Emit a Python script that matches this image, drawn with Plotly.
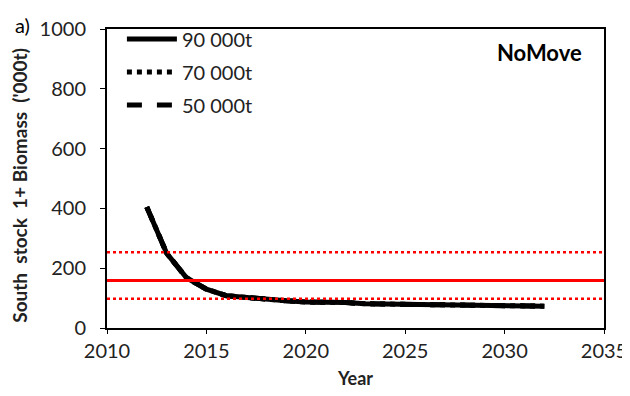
import plotly.graph_objects as go

years = list(range(2012, 2033))
biomass_90k = [405, 250, 168, 130, 108, 101, 96, 91, 87, 87, 85, 81, 80, 80, 79, 75, 78, 74, 73, 73, 73]
biomass_70k = [405, 250, 168, 130, 108, 101, 96, 91, 87, 87, 85, 81, 80, 80, 79, 75, 78, 74, 73, 73, 73]
biomass_50k = [405, 250, 168, 130, 108, 101, 96, 91, 87, 87, 85, 81, 80, 80, 79, 75, 78, 74, 73, 73, 73]
series_names = ["90 000t", "70 000t", "50 000t"]
ref_median = 159
ref_upper = 253
ref_lower = 98

FONT = "Lato"
OFF = 8  # page body offset compensation
fig = go.Figure()
for name, vals, dash in zip(series_names, [biomass_90k, biomass_70k, biomass_50k], ["solid", "dot", "dash"]):
    fig.add_trace(go.Scatter(x=years, y=vals, mode="lines", name=name, legendgroup=name,
                             line=dict(color="black", width=5, dash=dash)))

fig.add_hline(y=ref_median, line=dict(color="#ff0000", width=3))
fig.add_hline(y=ref_upper, line=dict(color="#ff0000", width=2.5, dash="dot"))
fig.add_hline(y=ref_lower, line=dict(color="#ff0000", width=2.5, dash="dot"))

fig.update_layout(
    width=630 - OFF, height=396 - OFF,
    margin=dict(l=107 - OFF, r=26, t=19 - OFF, b=68, pad=0),
    paper_bgcolor="white", plot_bgcolor="white",
    font=dict(family=FONT, size=20, color="#222"),
    showlegend=True,
    legend=dict(x=0.03, y=1.032, xanchor="left", yanchor="top", bgcolor="rgba(0,0,0,0)",
                font=dict(size=20, family=FONT), tracegroupgap=4, itemwidth=50),
    xaxis=dict(range=[2010, 2035], dtick=5, tick0=2010, showgrid=False, zeroline=False,
               showline=True, linecolor="black", linewidth=1.5, mirror=True, automargin=False,
               ticks="outside", ticklen=4, tickcolor="black", ticklabeloverflow="allow",
               title=dict(text="<b>Year</b>", font=dict(size=18, family=FONT), standoff=12),
               tickfont=dict(size=20, family=FONT)),
    yaxis=dict(range=[0, 1000], dtick=200, showgrid=False, zeroline=False,
               showline=True, linecolor="black", linewidth=2, mirror=True, automargin=False,
               ticks="outside", ticklen=5, tickcolor="black", ticklabeloverflow="allow",
               ticklabelstandoff=10,
               title=dict(text="<b>South  stock  1+ Biomass  ('000t)\u00a0\u00a0\u00a0</b>", font=dict(size=19, family=FONT), standoff=22),
               tickfont=dict(size=20, family=FONT)),
    annotations=[
        dict(text="<b>NoMove</b>", xref="paper", yref="paper", x=0.96, y=0.92, xanchor="right", yanchor="middle",
             showarrow=False, font=dict(size=22, family=FONT, color="black")),
        dict(text="a)", xref="paper", yref="paper", x=-0.19, y=1.013, xanchor="left", yanchor="middle",
             showarrow=False, font=dict(size=20, family=FONT, color="black")),
    ],
)
fig.write_html("out.html")
